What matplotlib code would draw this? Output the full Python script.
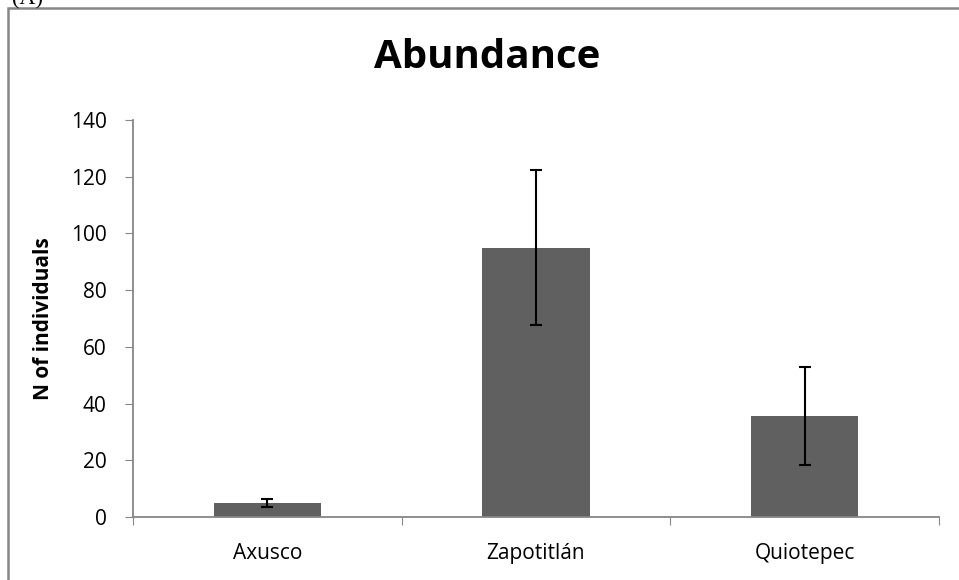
import matplotlib.pyplot as plt
from matplotlib.patches import Rectangle

# data
sites = ['Axusco', 'Zapotitlán', 'Quiotepec']
abundance = [5, 95, 35.5]
abundance_err = [1.4, 27.4, 17.3]
y_ticks = [0, 20, 40, 60, 80, 100, 120, 140]

fig = plt.figure(figsize=(9.59, 5.8), dpi=100)
ax = fig.add_axes([133/959, 63/580, (939-133)/959, (517-120)/580])

x = range(len(sites))
ax.bar(x, abundance, width=0.4, color='#606060', zorder=2)
ax.errorbar(x, abundance, yerr=abundance_err, fmt='none', ecolor='black',
            elinewidth=1.5, capsize=4.3, capthick=1.5, zorder=3)

ax.set_xlim(-0.5, len(sites) - 0.5)
ax.set_ylim(0, 140)
ax.set_yticks(y_ticks)
ax.set_xticks([i - 0.5 for i in range(len(sites) + 1)])
ax.set_xticklabels([])
ax.set_xticks(list(x), minor=True)
ax.set_xticklabels(sites, minor=True, fontsize=15, fontfamily='Open Sans')
ax.tick_params(axis='x', which='minor', length=0, pad=19)
ax.tick_params(axis='x', which='major', length=6, color='#868686', direction='out')
ax.tick_params(axis='y', length=6, color='#868686', direction='out', pad=13)
for lab in ax.get_yticklabels():
    lab.set_fontsize(15)
    lab.set_fontfamily('Open Sans')

for s in ['top', 'right']:
    ax.spines[s].set_visible(False)
for s in ['left', 'bottom']:
    ax.spines[s].set_color('#868686')
    ax.spines[s].set_linewidth(1.3)

ax.set_ylabel('N of individuals', fontsize=15, fontweight='bold',
              fontfamily='Open Sans', labelpad=12)
fig.text(487/959, 1 - 58/580, 'Abundance', ha='center', va='center',
         fontsize=29, fontweight='bold', fontfamily='Open Sans')

# outer chart frame (only left and top edges show)
fig.patches.append(Rectangle((8/959, -0.1), 1.1, 1 - 8/580 + 0.1,
                             transform=fig.transFigure, fill=False,
                             edgecolor='#868686', linewidth=1.8))
fig.text(12/959, 1.0, '(A)', ha='left', va='center', fontsize=16,
         fontfamily='Liberation Serif')

plt.savefig('out.png', dpi=100)
